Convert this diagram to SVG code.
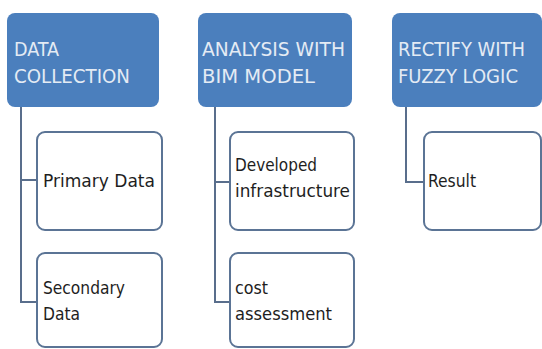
<svg xmlns="http://www.w3.org/2000/svg" width="542" height="349" viewBox="0 0 542 349">
<style>
.hdr{fill:#4b7fbd;stroke:none}
.child{fill:#ffffff;stroke:#5b7495;stroke-width:2}
.conn{fill:none;stroke:#596e8c;stroke-width:2}
.ht{font-family:"Liberation Sans Narrow","DejaVu Sans Condensed","Liberation Sans",sans-serif;font-size:19px;fill:#e4ebf4}
.ct{font-family:"Liberation Sans Narrow","DejaVu Sans Condensed","Liberation Sans",sans-serif;font-size:17px;fill:#1e1e1e}
</style>
<rect width="542" height="349" fill="#ffffff"/>
<g id="connectors">
<path class="conn" d="M21 107 V302 H37 M21 180 H37"/>
<path class="conn" d="M215 107 V302 H230 M215 182 H230"/>
<path class="conn" d="M406 107 V182 H424"/>
</g>
<g id="n1">
<rect class="hdr" x="7" y="13" width="152" height="94" rx="8"/>
<text class="ht" x="14" y="56" textLength="45" lengthAdjust="spacingAndGlyphs">DATA</text>
<text class="ht" x="14" y="83" textLength="116" lengthAdjust="spacingAndGlyphs">COLLECTION</text>
</g>
<g id="n1a">
<rect class="child" x="37" y="132" width="125" height="98" rx="8"/>
<text class="ct" x="43" y="187" textLength="112" lengthAdjust="spacingAndGlyphs">Primary Data</text>
</g>
<g id="n1b">
<rect class="child" x="37" y="253" width="125" height="94" rx="8"/>
<text class="ct" x="43" y="294" textLength="82" lengthAdjust="spacingAndGlyphs">Secondary</text>
<text class="ct" x="43" y="320" textLength="37" lengthAdjust="spacingAndGlyphs">Data</text>
</g>
<g id="n2">
<rect class="hdr" x="198" y="13" width="154" height="94" rx="8"/>
<text class="ht" x="202" y="56" textLength="143" lengthAdjust="spacingAndGlyphs">ANALYSIS WITH</text>
<text class="ht" x="202" y="83" textLength="113" lengthAdjust="spacingAndGlyphs">BIM MODEL</text>
</g>
<g id="n2a">
<rect class="child" x="230" y="132" width="124" height="98" rx="8"/>
<text class="ct" x="235" y="171" textLength="82" lengthAdjust="spacingAndGlyphs">Developed</text>
<text class="ct" x="235" y="197" textLength="115" lengthAdjust="spacingAndGlyphs">infrastructure</text>
</g>
<g id="n2b">
<rect class="child" x="230" y="253" width="124" height="94" rx="8"/>
<text class="ct" x="235" y="294" textLength="33" lengthAdjust="spacingAndGlyphs">cost</text>
<text class="ct" x="235" y="320" textLength="97" lengthAdjust="spacingAndGlyphs">assessment</text>
</g>
<g id="n3">
<rect class="hdr" x="392" y="13" width="150" height="94" rx="8"/>
<text class="ht" x="398" y="56" textLength="127" lengthAdjust="spacingAndGlyphs">RECTIFY WITH</text>
<text class="ht" x="398" y="83" textLength="120" lengthAdjust="spacingAndGlyphs">FUZZY LOGIC</text>
</g>
<g id="n3a">
<rect class="child" x="424" y="132" width="117" height="98" rx="8"/>
<text class="ct" x="428" y="187" textLength="48" lengthAdjust="spacingAndGlyphs">Result</text>
</g>
</svg>
